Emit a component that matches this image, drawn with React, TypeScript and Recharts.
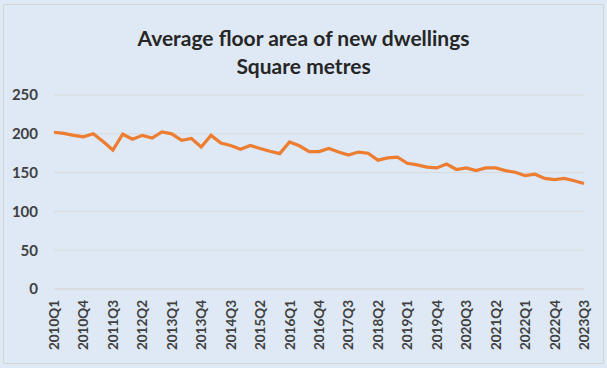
import React from 'react';
import { LineChart, Line, XAxis, YAxis, CartesianGrid } from 'recharts';

const YEARS = [2010, 2011, 2012, 2013, 2014, 2015, 2016, 2017, 2018, 2019, 2020, 2021, 2022, 2023];

const QUARTERS: string[] = [];
YEARS.forEach(y => {
  [1, 2, 3, 4].forEach(q => {
    if (y === 2023 && q > 3) return;
    QUARTERS.push(`${y}Q${q}`);
  });
});

const FLOOR_AREA = [
  202, 200.5, 198, 196, 200, 190, 179, 199.5, 193, 198,
  194.5, 202.5, 200, 191.5, 194, 183, 198, 188, 185, 180,
  185, 181, 177.5, 174.5, 189.5, 184.5, 177, 177, 181, 176.5,
  172.5, 176.5, 175, 166, 169, 170, 162, 160, 157, 156,
  161, 154, 156, 152.5, 156, 156, 152.5, 150.5, 146, 148,
  142.5, 141, 142.5, 139.5, 136,
];

const Y_TICKS = [0, 50, 100, 150, 200, 250];

const data = QUARTERS.map((quarter, i) => ({ quarter, area: FLOOR_AREA[i] }));

const FONT = 'Lato, "Open Sans", sans-serif';
const TEXT = '#404040';

const QuarterTick = (props: any) => {
  const { x, y, payload } = props;
  return (
    <text
      x={x}
      y={y}
      transform={`rotate(-90, ${x}, ${y})`}
      textAnchor="end"
      dominantBaseline="central"
      fontSize={13.5}
      fontWeight={700}
      fontFamily={FONT}
      fill={TEXT}
    >
      {payload.value}
    </text>
  );
};

export default function App() {
  return (
    <div style={{ position: 'absolute', left: 0, top: 0, width: 607, height: 368, background: '#dee9f5' }}>
      <div
        style={{
          position: 'absolute',
          left: 3,
          top: 4,
          width: 599,
          height: 358,
          border: '1px solid #d4d4d4',
        }}
      />
      <div
        style={{
          position: 'absolute',
          left: 0,
          top: 24,
          width: 607,
          textAlign: 'center',
          fontFamily: FONT,
          fontWeight: 700,
          fontSize: 21,
          lineHeight: '28px',
          color: '#262626',
        }}
      >
        Average floor area of new dwellings
        <br />
        Square metres
      </div>
      <LineChart
        width={607}
        height={368}
        data={data}
        margin={{ top: 95, right: 23, bottom: 6, left: 0 }}
        style={{ position: 'absolute', left: 0, top: 0 }}
      >
        <CartesianGrid vertical={false} stroke="#d9d9d9" />
        <XAxis
          dataKey="quarter"
          interval={2}
          tick={<QuarterTick />}
          tickLine={false}
          axisLine={{ stroke: '#d9d9d9' }}
          tickSize={0}
          tickMargin={11}
          height={73}
        />
        <YAxis
          domain={[0, 250]}
          ticks={Y_TICKS}
          width={54}
          tickLine={false}
          axisLine={false}
          tickSize={0}
          tickMargin={16}
          tick={{ fontSize: 15, fontWeight: 700, fontFamily: FONT, fill: TEXT }}
        />
        <Line
          type="linear"
          dataKey="area"
          stroke="#ed7d31"
          strokeWidth={3.25}
          dot={false}
          isAnimationActive={false}
        />
      </LineChart>
    </div>
  );
}
